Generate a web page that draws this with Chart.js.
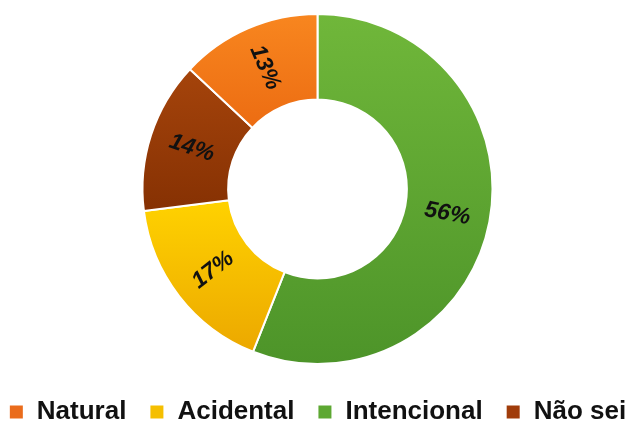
<!DOCTYPE html>
<html>
<head>
<meta charset="utf-8">
<script src="https://cdn.jsdelivr.net/npm/chart.js@4.4.1/dist/chart.umd.min.js"></script>
<style>
  html, body { margin: 0; padding: 0; background: #fff; }
  #wrap { width: 635px; height: 425px; }
</style>
</head>
<body>
<div id="wrap"><canvas id="grafico"></canvas></div>
<script>
// datos (en sentido horario desde arriba)
const categorias = ['Intencional', 'Acidental', 'Não sei', 'Natural'];
const valores = [56, 17, 14, 13];
// orden en que aparece la leyenda
const ordenLeyenda = ['Natural', 'Acidental', 'Intencional', 'Não sei'];

// colores: plano (leyenda) y degradado arriba/abajo de cada sector
const coloresPlanos = ['#5da832', '#f5bf00', '#a03c0a', '#ea6c1c'];
const coloresArriba = ['#70b73a', '#ffd200', '#a5440b', '#f8861f'];
const coloresAbajo = ['#4d9429', '#eca800', '#863103', '#ec6c12'];

//* pinta cada sector con un degradado vertical segun su propia altura
const degradados = {
    id: 'degradados',
    beforeDatasetsDraw(chart) {
        const c = chart.ctx;
        chart.getDatasetMeta(0).data.forEach((arco, i) => {
            const { x, y, startAngle, endAngle, innerRadius, outerRadius } = arco.getProps(
                ['x', 'y', 'startAngle', 'endAngle', 'innerRadius', 'outerRadius'], true);
            let arriba = Infinity, abajo = -Infinity;
            for (let k = 0; k <= 40; k++) {
                const a = startAngle + (endAngle - startAngle) * k / 40;
                [innerRadius, outerRadius].forEach(r => {
                    const py = y + r * Math.sin(a);
                    arriba = Math.min(arriba, py);
                    abajo = Math.max(abajo, py);
                });
            }
            const g = c.createLinearGradient(0, arriba, 0, abajo);
            g.addColorStop(0, coloresArriba[i]);
            g.addColorStop(1, coloresAbajo[i]);
            arco.options.backgroundColor = g;
        });
    }
};

//* porcentajes girados en la direccion del radio
const etiquetas = {
    id: 'etiquetas',
    afterDatasetsDraw(chart) {
        const c = chart.ctx;
        chart.getDatasetMeta(0).data.forEach((arco, i) => {
            const { x, y, startAngle, endAngle, innerRadius, outerRadius } = arco.getProps(
                ['x', 'y', 'startAngle', 'endAngle', 'innerRadius', 'outerRadius'], true);
            const medio = (startAngle + endAngle) / 2;
            const r = (innerRadius + outerRadius) / 2;
            let giro = medio;
            if (Math.cos(medio) < 0) giro += Math.PI;
            c.save();
            c.translate(x + r * Math.cos(medio), y + r * Math.sin(medio));
            c.rotate(giro);
            c.font = 'italic bold 23px "Liberation Sans", Arial, sans-serif';
            c.fillStyle = '#111';
            c.textAlign = 'center';
            c.textBaseline = 'middle';
            c.fillText(valores[i] + '%', 0, 0);
            c.restore();
        });
    }
};

new Chart(document.getElementById('grafico').getContext('2d'), {
    type: 'doughnut',
    data: {
        labels: categorias,
        datasets: [{
            data: valores,
            backgroundColor: (ctx) => coloresPlanos[ctx.dataIndex],
            borderColor: '#ffffff',
            borderWidth: 2
        }]
    },
    options: {
        responsive: true,
        maintainAspectRatio: false,
        animation: false,
        radius: 175,
        cutout: 95,
        //* relleno negativo para que la leyenda quepa en una fila y quede abajo
        layout: { padding: { top: 2, bottom: -10, left: -20, right: -20 } },
        plugins: {
            tooltip: { enabled: false },
            legend: {
                position: 'bottom',
                labels: {
                    boxWidth: 15,
                    boxHeight: 15,
                    padding: 23,
                    color: '#111',
                    font: { family: '"Liberation Sans", Arial, sans-serif', size: 26, weight: 'bold' },
                    sort: (a, b) => ordenLeyenda.indexOf(a.text) - ordenLeyenda.indexOf(b.text)
                }
            }
        }
    },
    plugins: [degradados, etiquetas]
});
</script>
</body>
</html>
